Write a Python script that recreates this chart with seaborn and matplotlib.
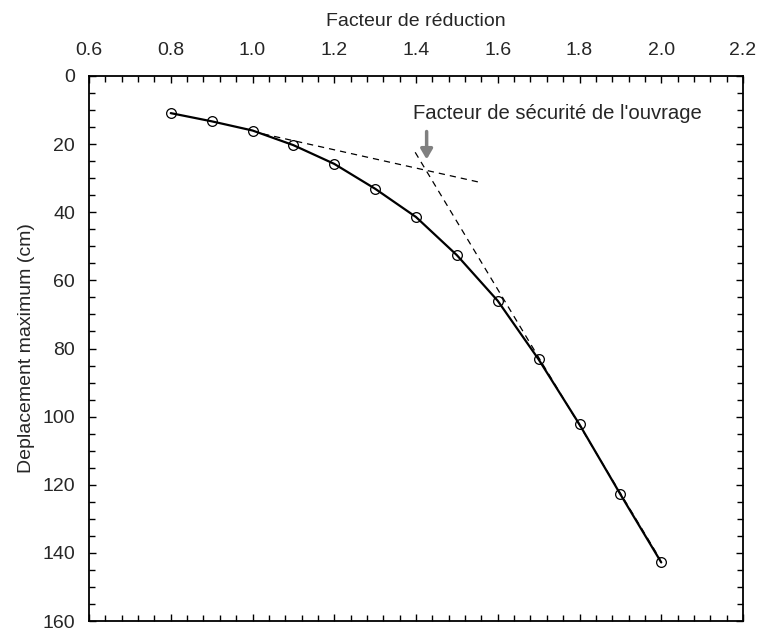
import matplotlib
matplotlib.use("Agg")
import matplotlib.pyplot as plt
import seaborn as sns
import pandas as pd
from matplotlib.ticker import MultipleLocator

# Data
facteur = [0.8, 0.9, 1.0, 1.1, 1.2, 1.3, 1.4, 1.5, 1.6, 1.7, 1.8, 1.9, 2.0]
deplacement = [10.9, 13.3, 16.0, 20.3, 25.8, 33.1, 41.4, 52.6, 66.0, 83.2, 102.3, 122.8, 142.8]

tangent1_x = [1.026, 1.552]
tangent1_y = [17.0, 31.1]
tangent2_x = [1.398, 1.997]
tangent2_y = [22.4, 141.8]

arrow_x = 1.426
arrow_y_start = 16.3
arrow_y_end = 24.5

x_ticks = [0.6, 0.8, 1.0, 1.2, 1.4, 1.6, 1.8, 2.0, 2.2]
y_ticks = [0, 20, 40, 60, 80, 100, 120, 140, 160]

annot_text = "Facteur de sécurité de l'ouvrage"
x_title = "Facteur de réduction"
y_title = "Deplacement maximum (cm)"

sns.set_style("white")
plt.rcParams['font.family'] = ['Liberation Sans', 'DejaVu Sans']

fig = plt.figure(figsize=(7.59, 6.34), dpi=100)
ax = fig.add_axes([89/759, 1 - 621/634, (743-89)/759, (621-76)/634])

df = pd.DataFrame({"x": facteur, "y": deplacement})
sns.lineplot(data=df, x="x", y="y", ax=ax, color="black", linewidth=1.6,
             marker="o", markersize=7, markerfacecolor="none",
             markeredgecolor="black", markeredgewidth=0.9, sort=False)

ax.plot(tangent1_x, tangent1_y, color="black", linestyle=(0, (5, 4)), linewidth=0.9)
ax.plot(tangent2_x, tangent2_y, color="black", linestyle=(0, (5, 4)), linewidth=0.9)

ax.annotate("", xy=(arrow_x, arrow_y_end), xytext=(arrow_x, arrow_y_start),
            arrowprops=dict(arrowstyle="-|>,head_width=0.35,head_length=0.6",
                            color="#808080", lw=2.5, shrinkA=0, shrinkB=0))
ax.text(1.392, 10.9, annot_text, ha="left", va="center", fontsize=14.6)

ax.set_xlim(0.6, 2.2)
ax.set_ylim(160, 0)
ax.set_xticks(x_ticks)
ax.set_yticks(y_ticks)
ax.set_xticklabels([f"{v:.1f}" for v in x_ticks])
ax.set_yticklabels([str(v) for v in y_ticks])
ax.xaxis.set_minor_locator(MultipleLocator(0.04))
ax.yaxis.set_minor_locator(MultipleLocator(5))

ax.xaxis.set_label_position("top")
ax.set_xlabel(x_title, fontsize=14, labelpad=12)
ax.set_ylabel(y_title, fontsize=14, labelpad=5)

ax.tick_params(which="both", direction="in", top=True, bottom=True, left=True, right=True,
               labeltop=True, labelbottom=False, labelleft=True, labelright=False,
               color="black", width=1.0)
ax.tick_params(which="major", length=5, labelsize=14, pad=10)
ax.tick_params(which="minor", length=4)
ax.tick_params(axis="x", which="major", pad=12)

for s in ax.spines.values():
    s.set_visible(True)
    s.set_color("black")
    s.set_linewidth(1.3)

fig.savefig("out.png", dpi=100)
